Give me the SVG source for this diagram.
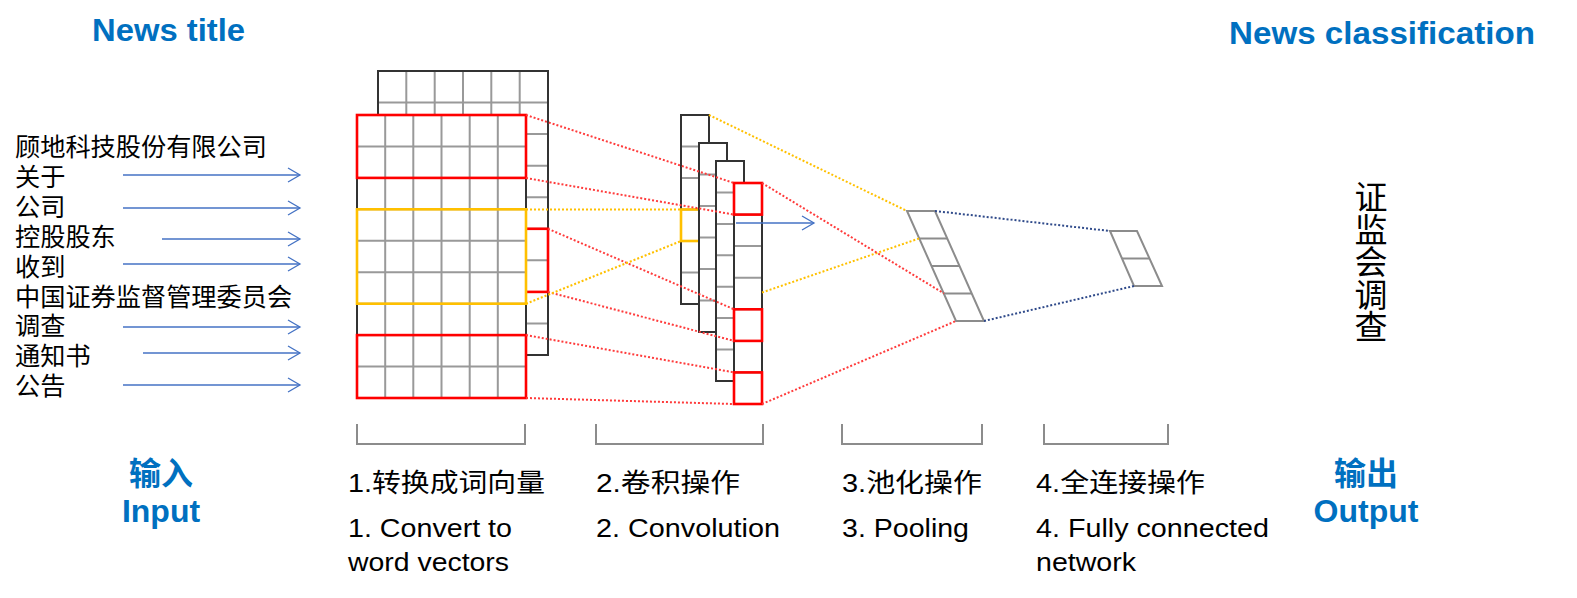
<svg xmlns="http://www.w3.org/2000/svg" width="1577" height="598" viewBox="0 0 1577 598">
<defs>
<marker id="chev" markerUnits="userSpaceOnUse" markerWidth="16" markerHeight="18" refX="13" refY="8" orient="auto">
<path d="M1,1 L13,8 L1,15" fill="none" stroke="#4472C4" stroke-width="1.3"/>
</marker>
</defs>
<style>
.t{font-family:"Liberation Sans",Arial,"Noto Sans CJK SC",sans-serif;fill:#000}
.cj{font-family:"Liberation Sans","Noto Sans CJK SC",sans-serif;fill:#000;font-size:25.2px}
.blue{font-family:"Liberation Sans",Arial,"Noto Sans CJK SC",sans-serif;font-weight:bold;fill:#0070C0;font-size:32px}
.lbl{font-size:26px}
.arr{stroke:#4472C4;stroke-width:1.3;fill:none;marker-end:url(#chev)}
.outer{fill:#fff;stroke:#333;stroke-width:2}
.inner{stroke:#999;stroke-width:2;fill:none}
.red{fill:none;stroke:#FF0000;stroke-width:2.6}
.yel{fill:none;stroke:#FFC000;stroke-width:2.6}
.gp{fill:none;stroke:#8c8c8c;stroke-width:2}
.dr{stroke:#FF3B3B;stroke-width:2;stroke-dasharray:2 2;fill:none}
.dy{stroke:#FFC000;stroke-width:2;stroke-dasharray:2 2;fill:none}
.dn{stroke:#2F4A8A;stroke-width:2;stroke-dasharray:2 2;fill:none}
.br{fill:none;stroke:#8c8c8c;stroke-width:2}
</style>
<rect width="1577" height="598" fill="#fff"/>

<g id="titles">
<text class="blue" x="92" y="41" textLength="153" lengthAdjust="spacingAndGlyphs">News title</text>
<text class="blue" x="1229" y="44" textLength="306" lengthAdjust="spacingAndGlyphs">News classification</text>
</g>

<g id="input-words">
<text class="cj" x="15" y="156">顾地科技股份有限公司</text>
<text class="cj" x="15" y="186">关于</text>
<text class="cj" x="15" y="216">公司</text>
<text class="cj" x="15" y="246">控股股东</text>
<text class="cj" x="15" y="276">收到</text>
<text class="cj" x="15" y="306">中国证券监督管理委员会</text>
<text class="cj" x="15" y="335">调查</text>
<text class="cj" x="15" y="365">通知书</text>
<text class="cj" x="15" y="395">公告</text>
</g>

<g id="word-vectors">
<rect class="outer" x="378" y="71" width="170" height="284"/>
<path class="inner" d="M406.3,71V355M434.7,71V355M463,71V355M491.3,71V355M519.7,71V355M378,102.6H548M378,134.1H548M378,165.7H548M378,197.2H548M378,228.8H548M378,260.3H548M378,291.9H548M378,323.4H548"/>
<rect class="outer" x="378" y="71" width="170" height="284" style="fill:none"/>
<rect class="red" x="519.7" y="228.8" width="28.3" height="63.1"/>
<rect class="outer" x="357" y="115" width="169" height="283"/>
<path class="inner" d="M385.2,115V398M413.3,115V398M441.5,115V398M469.7,115V398M497.8,115V398M357,146.4H526M357,177.9H526M357,209.3H526M357,240.8H526M357,272.2H526M357,303.7H526M357,335.1H526M357,366.6H526"/>
<rect class="outer" x="357" y="115" width="169" height="283" style="fill:none"/>
<rect class="red" x="357" y="115" width="169" height="62.9"/>
<rect class="yel" x="357" y="209.3" width="169" height="94.4"/>
<rect class="red" x="357" y="335.1" width="169" height="62.9"/>
</g>

<g id="convolution">
<rect class="outer" x="681" y="115" width="28" height="189"/>
<path class="inner" d="M681,146.5H709M681,178H709M681,209.5H709M681,241H709M681,272.5H709"/>
<rect class="outer" x="681" y="115" width="28" height="189" style="fill:none"/>
<rect class="yel" x="681" y="209.5" width="28" height="31.5"/>
<rect class="outer" x="699" y="143" width="28" height="189"/>
<path class="inner" d="M699,174.5H727M699,206H727M699,237.5H727M699,269H727M699,300.5H727"/>
<rect class="outer" x="699" y="143" width="28" height="189" style="fill:none"/>
<rect class="outer" x="716" y="161" width="28" height="220"/>
<path class="inner" d="M716,192.4H744M716,223.9H744M716,255.3H744M716,286.7H744M716,318.1H744M716,349.6H744"/>
<rect class="outer" x="716" y="161" width="28" height="220" style="fill:none"/>
<rect class="outer" x="734" y="183" width="28" height="221"/>
<path class="inner" d="M734,214.6H762M734,246.1H762M734,277.7H762M734,309.3H762M734,340.9H762M734,372.4H762"/>
<rect class="outer" x="734" y="183" width="28" height="221" style="fill:none"/>
<rect class="red" x="734" y="183" width="28" height="31.6"/>
<rect class="red" x="734" y="309.3" width="28" height="31.6"/>
<rect class="red" x="734" y="372.4" width="28" height="31.6"/>
</g>

<g id="pooling">
<path class="gp" d="M907,211H935L984,321H956Z"/>
<path class="gp" d="M919,238.5H947M931.5,266H959.5M944,293.5H972"/>
</g>

<g id="fully-connected">
<path class="gp" d="M1110,231H1137L1162,286H1134Z"/>
<path class="gp" d="M1122,258.5H1149.5"/>
</g>

<g id="connectors">
<path class="arr" d="M123,175H300"/>
<path class="arr" d="M123,208H300"/>
<path class="arr" d="M162,239H300"/>
<path class="arr" d="M123,264H300"/>
<path class="arr" d="M123,327H300"/>
<path class="arr" d="M143,353H300"/>
<path class="arr" d="M123,385H300"/>
<path class="dr" d="M526,115L734,183"/>
<path class="dr" d="M526,178L734,214.6"/>
<path class="dr" d="M548,228.8L734,309.3"/>
<path class="dr" d="M548,291.9L734,340.9"/>
<path class="dr" d="M526,335.1L734,372.4"/>
<path class="dr" d="M526,398L734,404"/>
<path class="dy" d="M526,209.5L681,209.5"/>
<path class="dy" d="M526,303.7L681,241"/>
<path class="dy" d="M709,115L907,211"/>
<path class="dy" d="M762,292.5L919,238.5"/>
<path class="dr" d="M762,183L944,293.5"/>
<path class="dr" d="M762,404L956,321"/>
<path class="dn" d="M935,211L1110,231"/>
<path class="dn" d="M984,321L1134,286"/>
<path class="arr" d="M736,223H814"/>
</g>

<g id="output">
<text x="1371" y="180" style="writing-mode:vertical-rl;font-size:33px;font-family:'Noto Sans CJK SC',sans-serif;letter-spacing:-0.5px;fill:#000">证监会调查</text>
</g>

<g id="brackets">
<path class="br" d="M357,424V444H525V424"/>
<path class="br" d="M596,424V444H763V424"/>
<path class="br" d="M842,424V444H982V424"/>
<path class="br" d="M1044,424V444H1168V424"/>
</g>

<g id="io-labels">
<text class="blue" x="161" y="485" text-anchor="middle">输入</text>
<text class="blue" x="161" y="522" text-anchor="middle">Input</text>
<text class="blue" x="1366" y="485" text-anchor="middle">输出</text>
<text class="blue" x="1366" y="522" text-anchor="middle">Output</text>
</g>

<g id="step-labels">
<text class="t lbl" x="348" y="492" textLength="197" lengthAdjust="spacingAndGlyphs">1.转换成词向量</text>
<text class="t lbl" x="348" y="537" textLength="164" lengthAdjust="spacingAndGlyphs">1. Convert to</text>
<text class="t lbl" x="348" y="571" textLength="161" lengthAdjust="spacingAndGlyphs">word vectors</text>
<text class="t lbl" x="596" y="492" textLength="144" lengthAdjust="spacingAndGlyphs">2.卷积操作</text>
<text class="t lbl" x="596" y="537" textLength="184" lengthAdjust="spacingAndGlyphs">2. Convolution</text>
<text class="t lbl" x="842" y="492" textLength="140" lengthAdjust="spacingAndGlyphs">3.池化操作</text>
<text class="t lbl" x="842" y="537" textLength="127" lengthAdjust="spacingAndGlyphs">3. Pooling</text>
<text class="t lbl" x="1036" y="492" textLength="169" lengthAdjust="spacingAndGlyphs">4.全连接操作</text>
<text class="t lbl" x="1036" y="537" textLength="233" lengthAdjust="spacingAndGlyphs">4. Fully connected</text>
<text class="t lbl" x="1036" y="571" textLength="100" lengthAdjust="spacingAndGlyphs">network</text>
</g>
</svg>
